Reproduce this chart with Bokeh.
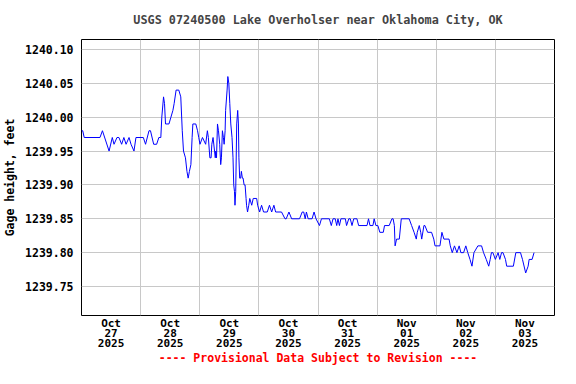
from bokeh.plotting import figure
from bokeh.models import FixedTicker, PrintfTickFormatter, Range1d
from bokeh.embed import file_html
from bokeh.resources import INLINE

# hours since 2025-10-27 00:00 (local time)
hours = [0.0, 0.5, 1.1, 7.5, 8.5, 11.2, 12.5, 13.2, 14.4, 15.2, 16.3, 17.2, 18.1, 19.3, 20.1,
         21.3, 22.1, 25.1, 26.0, 27.4, 28.0, 29.3, 30.5, 31.4, 32.2, 32.6, 33.3, 33.7, 34.1,
         35.5, 36.3, 37.1, 37.6, 38.4, 39.5, 40.3, 40.9, 41.4, 42.2, 42.8, 43.3, 43.8, 44.4,
         44.9, 45.2, 46.4, 47.1, 47.6, 48.1, 49.1, 50.4, 51.1, 51.5, 52.1, 52.6, 52.9, 53.4,
         54.0, 54.3, 54.5, 54.8, 55.2, 55.6, 56.1, 56.5, 56.8, 57.2, 57.6, 57.9, 58.3, 58.5,
         59.1, 59.4, 59.8, 60.2, 60.6, 61.1, 61.5, 61.8, 62.1, 62.3, 62.6, 63.0, 63.4, 63.7,
         63.9, 64.2, 64.6, 64.9, 65.3, 65.6, 66.0, 66.4, 66.8, 67.0, 67.4, 67.9, 68.3, 69.1,
         69.7, 71.1, 71.5, 72.3, 73.1, 73.9, 75.4, 76.3, 77.2, 78.1, 78.8, 81.2, 82.6, 83.1,
         84.2, 85.3, 88.5, 89.6, 90.2, 90.8, 91.3, 92.0, 93.6, 94.4, 95.2, 96.6, 97.4, 100.6,
         101.4, 102.1, 103.0, 103.6, 104.1, 104.7, 105.3, 107.1, 107.6, 108.5, 109.1, 109.8,
         110.5, 111.8, 112.5, 115.9, 116.5, 117.1, 118.3, 118.8, 119.5, 120.3, 121.1, 122.5,
         123.0, 124.9, 126.0, 126.5, 127.0, 127.3, 127.9, 129.0, 129.8, 133.0, 134.0, 135.0,
         135.9, 136.3, 137.1, 137.7, 138.1, 139.0, 139.4, 140.5, 142.1, 143.0, 143.5, 145.5,
         145.9, 146.3, 147.1, 149.2, 149.7, 150.5, 151.4, 152.4, 153.3, 154.0, 155.1, 156.0,
         156.8, 157.7, 158.5, 159.3, 160.9, 162.4, 163.2, 164.3, 165.3, 165.9, 166.4, 167.0,
         168.0, 169.1, 169.8, 170.5, 171.1, 172.1, 172.6, 175.3, 176.3, 178.2, 179.0, 180.3,
         181.3, 181.7, 182.9, 183.7]

gage_ft = [1239.98, 1239.98, 1239.97, 1239.97, 1239.98, 1239.95, 1239.97, 1239.96, 1239.97,
           1239.97, 1239.96, 1239.97, 1239.96, 1239.97, 1239.96, 1239.95, 1239.97, 1239.97,
           1239.96, 1239.98, 1239.98, 1239.96, 1239.96, 1239.97, 1239.97, 1240.00, 1240.03,
           1240.02, 1239.99, 1239.99, 1240.00, 1240.01, 1240.02, 1240.04, 1240.04, 1240.03,
           1239.98, 1239.95, 1239.94, 1239.92, 1239.91, 1239.92, 1239.93, 1239.97, 1239.99,
           1239.99, 1239.98, 1239.97, 1239.96, 1239.97, 1239.96, 1239.98, 1239.97, 1239.94,
           1239.94, 1239.96, 1239.97, 1239.95, 1239.94, 1239.95, 1239.94, 1239.99, 1239.98,
           1239.96, 1239.93, 1239.94, 1239.98, 1239.97, 1239.96, 1239.98, 1240.01, 1240.04,
           1240.06, 1240.05, 1240.02, 1239.99, 1239.97, 1239.94, 1239.90, 1239.89, 1239.87,
           1239.89, 1239.99, 1240.01, 1239.99, 1239.94, 1239.91, 1239.91, 1239.92, 1239.91,
           1239.91, 1239.90, 1239.90, 1239.88, 1239.87, 1239.86, 1239.87, 1239.88, 1239.87,
           1239.88, 1239.88, 1239.87, 1239.86, 1239.87, 1239.86, 1239.86, 1239.87, 1239.86,
           1239.87, 1239.86, 1239.86, 1239.85, 1239.85, 1239.86, 1239.85, 1239.85, 1239.86,
           1239.86, 1239.85, 1239.86, 1239.85, 1239.85, 1239.86, 1239.85, 1239.84, 1239.85,
           1239.85, 1239.84, 1239.85, 1239.85, 1239.84, 1239.85, 1239.84, 1239.85, 1239.85,
           1239.84, 1239.85, 1239.85, 1239.84, 1239.85, 1239.85, 1239.84, 1239.84, 1239.85,
           1239.84, 1239.84, 1239.85, 1239.84, 1239.84, 1239.83, 1239.83, 1239.84, 1239.84,
           1239.85, 1239.85, 1239.84, 1239.81, 1239.82, 1239.82, 1239.85, 1239.85, 1239.84,
           1239.83, 1239.82, 1239.83, 1239.84, 1239.83, 1239.82, 1239.84, 1239.84, 1239.83,
           1239.83, 1239.82, 1239.81, 1239.81, 1239.82, 1239.83, 1239.82, 1239.82, 1239.81,
           1239.80, 1239.81, 1239.80, 1239.81, 1239.80, 1239.80, 1239.81, 1239.80, 1239.79,
           1239.78, 1239.80, 1239.81, 1239.81, 1239.80, 1239.79, 1239.78, 1239.79, 1239.80,
           1239.80, 1239.79, 1239.80, 1239.79, 1239.80, 1239.80, 1239.79, 1239.78, 1239.78,
           1239.80, 1239.80, 1239.79, 1239.77, 1239.78, 1239.79, 1239.79, 1239.80]

day_midnights = [0, 24, 48, 72, 96, 120, 144, 168, 192]
label_noons = [12, 36, 60, 84, 108, 132, 156, 180]
month_labels = ["Oct", "Oct", "Oct", "Oct", "Oct", "Nov", "Nov", "Nov"]
day_labels = ["27", "28", "29", "30", "31", "01", "02", "03"]
year_labels = ["2025"] * 8
y_ticks = [1239.75, 1239.80, 1239.85, 1239.90, 1239.95, 1240.00, 1240.05, 1240.10]

FONT = "DejaVu Sans Mono"
FRAME_L, FRAME_R, FRAME_T, FRAME_B = 79, 554, 39, 316
W, H = 560, 368

p = figure(width=W, height=H, output_backend="svg", toolbar_location=None,
           x_range=Range1d(0, 192), y_range=Range1d(1239.7072, 1240.1147),
           min_border_left=FRAME_L, min_border_right=W - FRAME_R,
           min_border_top=FRAME_T, min_border_bottom=H - FRAME_B,
           background_fill_color="white", border_fill_color="white")

p.line(hours, gage_ft, line_color="#0000ff", line_width=1)

p.title.text = "USGS 07240500 Lake Overholser near Oklahoma City, OK"
p.title.align = "center"
p.title.vertical_align = "top"
p.title.text_font = FONT
p.title.text_font_size = "11.8px"
p.title.text_font_style = "bold"
p.title.standoff = 22

p.outline_line_color = "black"
p.outline_line_width = 1

# grids: midnight lines
p.xgrid.ticker = FixedTicker(ticks=day_midnights)
p.ygrid.ticker = FixedTicker(ticks=y_ticks)
p.xgrid.grid_line_color = "#c8c8c8"
p.ygrid.grid_line_color = "#c8c8c8"

# x axis: labels at noon, footer as the axis label
p.xaxis.ticker = FixedTicker(ticks=label_noons)
p.xaxis.major_label_overrides = {
    t: f"{m}\n{d}\n{y}" for t, m, d, y in zip(label_noons, month_labels, day_labels, year_labels)
}
p.xaxis.major_label_text_font = FONT
p.xaxis.major_label_text_font_size = "11px"
p.xaxis.major_label_text_font_style = "bold"
p.xaxis.major_label_standoff = 1
p.xaxis.major_label_text_line_height = 0.8
p.xaxis.axis_label = "---- Provisional Data Subject to Revision ----"
p.xaxis.axis_label_text_color = "red"
p.xaxis.axis_label_text_font = FONT
p.xaxis.axis_label_text_font_size = "11.5px"
p.xaxis.axis_label_text_font_style = "bold"
p.xaxis.axis_label_standoff = -2

# y axis
p.yaxis.ticker = FixedTicker(ticks=y_ticks)
p.yaxis.formatter = PrintfTickFormatter(format="%.2f")
p.yaxis.major_label_text_font = FONT
p.yaxis.major_label_text_font_size = "11.5px"
p.yaxis.major_label_text_font_style = "bold"
p.yaxis.major_label_standoff = 8
p.yaxis.axis_label = "Gage height, feet"
p.yaxis.axis_label_text_font = FONT
p.yaxis.axis_label_text_font_size = "11.5px"
p.yaxis.axis_label_text_font_style = "bold"
p.yaxis.axis_label_standoff = 5
p.yaxis.axis_label_text_color = "black"

for ax in (p.xaxis, p.yaxis):
    ax.axis_line_color = None
    ax.major_tick_line_color = None
    ax.minor_tick_line_color = None
    ax.major_tick_out = 0
    ax.major_tick_in = 0
    ax.minor_tick_out = 0
    ax.minor_tick_in = 0
    ax.major_label_text_color = "black"

open("out.html", "w").write(file_html(p, INLINE))
